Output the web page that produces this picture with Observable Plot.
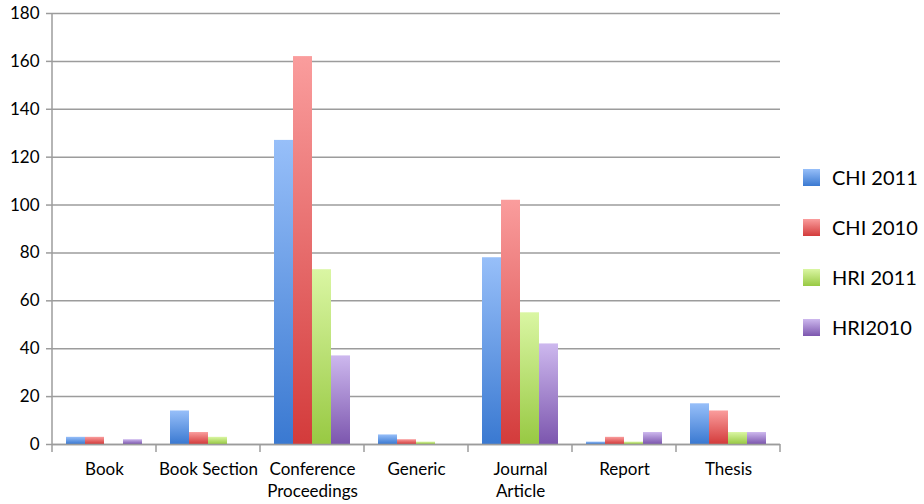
<!DOCTYPE html>
<html>
<head>
<meta charset="utf-8">
<script src="https://cdn.jsdelivr.net/npm/d3@7"></script>
<script src="https://cdn.jsdelivr.net/npm/@observablehq/plot@0.6"></script>
<style>
  body { margin: 0; background: #fff; font-family: Lato, sans-serif; }
  #wrap { position: relative; width: 924px; height: 504px; }
  #legend { position: absolute; left: 803px; top: 0; }
  .item { position: absolute; left: 0; display: flex; align-items: center; white-space: nowrap; font-size: 20px; color: #000; }
  .sw { width: 17px; height: 17px; margin-right: 12px; }
</style>
</head>
<body>
<div id="wrap"></div>
<script>
// Publication types per venue/year
const categories = ["Book", "Book Section", "Conference Proceedings", "Generic", "Journal Article", "Report", "Thesis"];
const categoryLabels = ["Book", "Book Section", "Conference\nProceedings", "Generic", "Journal\nArticle", "Report", "Thesis"];
const series = ["CHI 2011", "CHI 2010", "HRI 2011", "HRI2010"];
const chi2011 = [3, 14, 127, 4, 78, 1, 17];
const chi2010 = [3, 5, 162, 2, 102, 3, 14];
const hri2011 = [0, 3, 73, 1, 55, 1, 5];
const hri2010 = [2, 0, 37, 0, 42, 5, 5];
const yTicks = [0, 20, 40, 60, 80, 100, 120, 140, 160, 180];

// top / bottom colour of each series' vertical gradient
const gradients = [
  ["#97bff9", "#3a79d1"],
  ["#fa9d9d", "#d33b3b"],
  ["#daf6a3", "#98c943"],
  ["#cdb8ee", "#7c56ae"]
];

const values = [chi2011, chi2010, hri2011, hri2010];
const rows = categories.flatMap((c, i) => series.map((s, j) => ({category: c, series: s, value: values[j][i]})));

const chart = Plot.plot({
  width: 924,
  height: 504,
  marginTop: 13,
  marginBottom: 60,
  marginLeft: 49,
  marginRight: 142,
  style: {fontFamily: "Lato, sans-serif", fontSize: "17px", color: "#000", background: "#fff", overflow: "visible"},
  fx: {domain: categories, padding: 0, label: null},
  x: {domain: series, paddingInner: 0, paddingOuter: 0.72, axis: null},
  y: {domain: [0, 180], label: null},
  marks: [
    Plot.gridY(yTicks, {stroke: "#9c9c9c", strokeOpacity: 1, strokeWidth: 1.5}),
    ...series.map((s, j) => Plot.barY(rows.filter(r => r.series === s), {
      fx: "category", x: "series", y: "value", fill: `url(#grad${j})`
    })),
    Plot.ruleY([0], {stroke: "#9c9c9c", strokeWidth: 1.5}),
    Plot.axisY(yTicks, {tickSize: 6, tickPadding: 7, stroke: "#9c9c9c", strokeWidth: 1.5, fill: "#000", fontSize: 17, label: null}),
    Plot.axisFx({anchor: "bottom", tickSize: 0, tickPadding: 15, lineHeight: 1.3, fontSize: 17, fill: "#000", label: null,
      tickFormat: c => categoryLabels[categories.indexOf(c)]})
  ]
});

const svg = d3.select(chart);

// vertical gradients for the bars
const defs = svg.insert("defs", ":first-child");
gradients.forEach(([top, bottom], j) => {
  const g = defs.append("linearGradient").attr("id", `grad${j}`)
    .attr("x1", 0).attr("y1", 0).attr("x2", 0).attr("y2", 1);
  g.append("stop").attr("offset", "0%").attr("stop-color", top);
  g.append("stop").attr("offset", "100%").attr("stop-color", bottom);
});

// value axis line and category boundary ticks
const fx = chart.scale("fx");
const y = chart.scale("y");
const y0 = y.apply(0), yTop = y.apply(180);
const edges = categories.map(c => fx.apply(c)).concat([fx.apply(categories[categories.length - 1]) + fx.bandwidth]);
const frame = svg.append("g").attr("stroke", "#9c9c9c").attr("stroke-width", 1.5);
frame.append("line").attr("x1", edges[0]).attr("x2", edges[0]).attr("y1", yTop).attr("y2", y0);
frame.selectAll(".edge").data(edges).join("line")
  .attr("x1", d => d).attr("x2", d => d).attr("y1", y0).attr("y2", y0 + 8);

document.getElementById("wrap").append(chart);

// legend
const legend = document.createElement("div");
legend.id = "legend";
series.forEach((s, j) => {
  const item = document.createElement("div");
  item.className = "item";
  item.style.top = `${165 + j * 50}px`;
  const sw = document.createElement("div");
  sw.className = "sw";
  sw.style.background = `linear-gradient(${gradients[j][0]}, ${gradients[j][1]})`;
  const label = document.createElement("span");
  label.textContent = s;
  item.append(sw, label);
  legend.append(item);
});
document.getElementById("wrap").append(legend);
</script>
</body>
</html>
